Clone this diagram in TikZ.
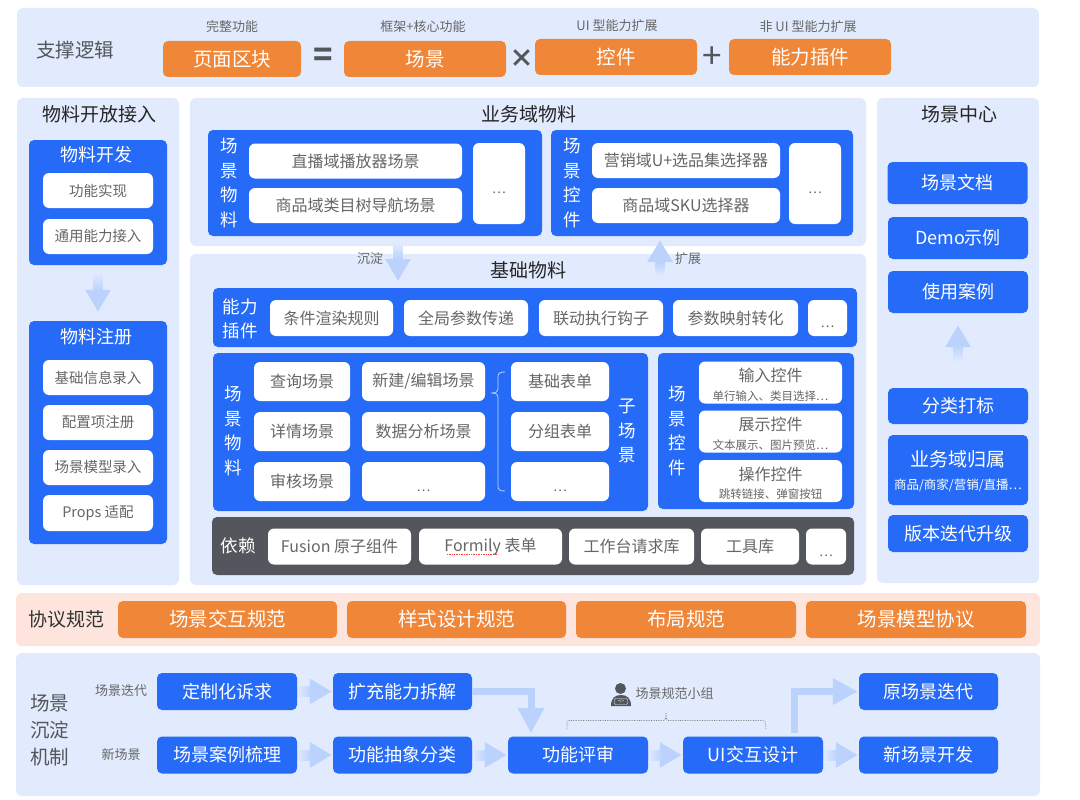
\documentclass[tikz,border=0pt]{standalone}
\usepackage{fontspec}
\setmainfont{Noto Sans CJK SC}
\usepackage[]{xcolor}
\usetikzlibrary{arrows.meta}
\usetikzlibrary{calc}
\definecolor{panelblue}{HTML}{E1EBFD}
\definecolor{panelred}{HTML}{FDE5DE}
\definecolor{mainblue}{HTML}{256BF8}
\definecolor{mainorange}{HTML}{F08637}
\definecolor{darkgrey}{HTML}{53565C}
\definecolor{arrowblue}{HTML}{BAD2FC}
\definecolor{textgrey}{HTML}{666666}
\newcommand{\moredots}{\raisebox{-9.5pt}[0pt][0pt]{\fontsize{13}{16}\selectfont …}}
\tikzset{
    sz/.style 2 args={minimum width=#1pt,minimum height=#2pt},
    fs/.style={font=\fontsize{#1}{24}\selectfont},
    panel/.style={fill=panelblue,rounded corners=6pt,inner sep=0pt},
    bluebox/.style={fill=mainblue,rounded corners=5pt,inner sep=0pt,text=white,fs=18},
    orangebox/.style={fill=mainorange,rounded corners=5pt,inner sep=0pt,text=white,fs=19.5},
    whitebox/.style={fill=white,rounded corners=6pt,inner sep=0pt,text=textgrey,fs=16},
    title/.style={inner sep=0pt,text=black!85,fs=19},
    caption/.style={inner sep=0pt,text=textgrey,fs=13},
    vtext/.style={inner sep=0pt,align=center,text=white,font=\fontsize{17.5}{24.5}\selectfont},
    ctrlbox/.style={whitebox,sz={143}{42},align=center,font=\fontsize{16}{18.5}\selectfont},
    opsign/.style={inner sep=0pt,text=darkgrey,font=\fontsize{#1}{#1}\selectfont\bfseries},
    fatline/.style={draw=arrowblue,line width=#1pt,-{Triangle[width=24pt,length=22pt]}},
    fatline/.default=9,
    fatbend/.style={draw=arrowblue,line width=7pt,-{Triangle[width=25pt,length=25pt]}},
    fadeh/.style={left color=panelblue,right color=arrowblue,draw=none},
    fadev/.style={top color=panelblue,bottom color=arrowblue,draw=none},
    fadeu/.style={bottom color=panelblue,top color=arrowblue,draw=none},
}
\begin{document}
\begin{tikzpicture}[x=1pt,y=-1pt]
    \useasboundingbox (0,0) rectangle (1080,800);
    % 支撑逻辑
    \node[panel,sz={1022}{79}] (logicpanel) at (528,47.5) {};
    \node[title,text=darkgrey,fs=19.5] (logictitle) at (75,50) {支撑逻辑};
    \node[caption] (cap1) at (232,27) {完整功能};
    \node[caption] (cap2) at (423,27) {框架+核心功能};
    \node[caption] (cap3) at (617,26) {UI 型能力扩展};
    \node[caption] (cap4) at (808,27) {非 UI 型能力扩展};
    \node[orangebox,sz={138}{36}] (block) at (232,59) {页面区块};
    \node[orangebox,sz={162}{36}] (scene) at (425,59) {场景};
    \node[orangebox,sz={162}{36}] (control) at (616,57) {控件};
    \node[orangebox,sz={162}{36}] (plugin) at (810,57) {能力插件};
    \node[opsign=32] (opeq) at (323,57.5) {=};
    \node[opsign=25] (optimes) at (521.5,58.5) {×};
    \node[opsign=35,font=\fontsize{35}{35}\mdseries] (opplus) at (712.5,57.5) {+};
    % 物料开放接入
    \node[panel,sz={162}{487}] (openpanel) at (98,341.5) {};
    \node[title] (opentitle) at (99,114) {物料开放接入};
    \node[bluebox,sz={138}{125}] (kaifa) at (98,202.5) {};
    \node[bluebox,inner sep=0pt] (kaifatitle) at (96,155) {物料开发};
    \node[whitebox,sz={110}{35},fs=14.5] (gongneng) at (98,190.5) {功能实现};
    \node[whitebox,sz={110}{35},fs=14.5] (tongyong) at (98,236.5) {通用能力接入};
    \node[bluebox,sz={138}{223}] (zhuce) at (98,432.5) {};
    \node[bluebox,inner sep=0pt] (zhucetitle) at (96,337) {物料注册};
    \node[whitebox,sz={110}{35},fs=14.5] (jichu) at (98,377.5) {基础信息录入};
    \node[whitebox,sz={110}{35},fs=14.5] (peizhi) at (98,422.5) {配置项注册};
    \node[whitebox,sz={110}{35},fs=14.5] (moxing) at (98,467.5) {场景模型录入};
    \node[whitebox,sz={110}{36},fs=14.5] (props) at (98,513) {Props 适配};
    % 业务域物料
    \node[panel,sz={676}{148}] (bizpanel) at (528,172) {};
    \node[title] (biztitle) at (529,114) {业务域物料};
    \node[bluebox,sz={334}{106}] (bizscene) at (375,183) {};
    \node[vtext] (bizscenetext) at (229,183) {场\\景\\物\\料};
    \node[whitebox,sz={213}{35}] (zhibo) at (355.5,161) {直播域播放器场景};
    \node[whitebox,sz={213}{35}] (shangpin) at (355.5,205.5) {商品域类目树导航场景};
    \node[whitebox,sz={52}{81}] (bizmore1) at (499,183.5) {\moredots};
    \node[bluebox,sz={302}{106}] (bizctrl) at (702,183) {};
    \node[vtext] (bizctrltext) at (572,183) {场\\景\\控\\件};
    \node[whitebox,sz={188}{35}] (yingxiao) at (686,160.5) {营销域U+选品集选择器};
    \node[whitebox,sz={188}{35}] (sku) at (686,205.5) {商品域SKU选择器};
    \node[whitebox,sz={52}{81}] (bizmore2) at (815,183.5) {\moredots};
    % 基础物料
    \node[panel,sz={676}{331}] (basepanel) at (528,419.5) {};
    \node[title] (basetitle) at (528,270) {基础物料};
    \node[caption] (chendian) at (370,259) {沉淀};
    \node[caption] (kuozhan) at (688,259) {扩展};
    \coordinate (chenA) at (398,243);
    \coordinate (chenB) at (398,281);
    \coordinate (kuoA) at (660,276);
    \coordinate (kuoB) at (660,240);
    \node[bluebox,sz={644}{59}] (pluginbar) at (535,317.5) {};
    \node[vtext,font=\fontsize{17.5}{24}\selectfont] (plugintext) at (240,319) {能力\\插件};
    \node[whitebox,sz={123}{36}] (tiaojian) at (331.5,318) {条件渲染规则};
    \node[whitebox,sz={124}{36}] (quanju) at (466,318) {全局参数传递};
    \node[whitebox,sz={124}{36}] (liandong) at (601,318) {联动执行钩子};
    \node[whitebox,sz={125}{36}] (yingshe) at (735.5,318) {参数映射转化};
    \node[whitebox,sz={39}{36}] (pluginmore) at (827.5,318) {\moredots};
    % 场景物料
    \node[bluebox,sz={435}{158}] (basescene) at (430.5,432) {};
    \node[vtext] (basescenetext) at (233,431) {场\\景\\物\\料};
    \node[whitebox,sz={96}{39}] (chaxun) at (302,381.5) {查询场景};
    \node[whitebox,sz={96}{39}] (xiangqing) at (302,431.5) {详情场景};
    \node[whitebox,sz={96}{39}] (shenhe) at (302,481.5) {审核场景};
    \node[whitebox,sz={123}{39}] (xinjian) at (423.5,381.5) {新建/编辑场景};
    \node[whitebox,sz={123}{39}] (shuju) at (423.5,431.5) {数据分析场景};
    \node[whitebox,sz={123}{39}] (scenemore) at (423.5,481.5) {\moredots};
    \node[whitebox,sz={98}{39}] (jichubiao) at (560,381.5) {基础表单};
    \node[whitebox,sz={98}{39}] (fenzu) at (560,431.5) {分组表单};
    \node[whitebox,sz={98}{39}] (biaomore) at (560,481.5) {\moredots};
    \node[vtext] (zichangjing) at (627,431) {子\\场\\景};
    \draw[white!70!mainblue,line width=0.8pt] (505,372) .. controls (500,372) and (498,373) .. (498,377) -- (498,388) .. controls (498,392) and (496,393) .. (491,393) .. controls (496,393) and (498,394) .. (498,398) -- (498,486) .. controls (498,490) and (500,491) .. (505,491);
    % 场景控件
    \node[bluebox,sz={196}{156}] (basectrl) at (756,431) {};
    \node[vtext] (basectrltext) at (677,431) {场\\景\\控\\件};
    \node[ctrlbox] (shuru) at (770.5,382.5) {\rule{0pt}{18pt}输入控件\\{\fontsize{11.5}{13}\selectfont 单行输入、类目选择…}};
    \node[ctrlbox] (zhanshi) at (770.5,431.5) {\rule{0pt}{18pt}展示控件\\{\fontsize{11.5}{13}\selectfont 文本展示、图片预览…}};
    \node[ctrlbox] (caozuo) at (770.5,481) {\rule{0pt}{18pt}操作控件\\{\fontsize{11.5}{13}\selectfont 跳转链接、弹窗按钮}};
    % 依赖
    \node[bluebox,fill=darkgrey,sz={642}{58}] (depbar) at (533,546) {};
    \node[vtext,font=\fontsize{17.5}{20}\selectfont] (deptext) at (238,546) {依赖};
    \node[whitebox,sz={143}{36}] (fusion) at (339.5,546.5) {Fusion 原子组件};
    \node[whitebox,sz={143}{36}] (formily) at (490.5,546.5) {Formily 表单};
    \draw[red!75!white,line width=0.7pt,densely dotted] (447,554) -- (498,554);
    \node[whitebox,sz={125}{36}] (qingqiu) at (631.5,546.5) {工作台请求库};
    \node[whitebox,sz={98}{36}] (gongju) at (750,546.5) {工具库};
    \node[whitebox,sz={40}{36}] (depmore) at (826,546.5) {\moredots};
    % 场景中心
    \node[panel,sz={162}{485}] (centerpanel) at (958,340.5) {};
    \node[title] (centertitle) at (959,114) {场景中心};
    \node[bluebox,sz={140}{42}] (wendang) at (957.5,183) {场景文档};
    \node[bluebox,sz={140}{42}] (demo) at (958,238) {Demo示例};
    \node[bluebox,sz={140}{42}] (anli) at (958,292) {使用案例};
    \node[bluebox,sz={140}{36}] (fenlei) at (958,406) {分类打标};
    \node[bluebox,sz={140}{70}] (guishu) at (958,470) {};
    \node[inner sep=0pt,text=white,fs=19] (guishutext) at (958,459) {业务域归属};
    \node[inner sep=0pt,text=white,fs=12.5] (guishusub) at (958,485) {商品/商家/营销/直播…};
    \node[bluebox,sz={140}{37}] (banben) at (958,533.5) {版本迭代升级};
    % 协议规范
    \node[panel,fill=panelred,sz={1024}{53}] (protopanel) at (528,619.5) {};
    \node[title,text=black!80,fs=19] (prototitle) at (66,619) {协议规范};
    \node[orangebox,sz={219}{37}] (jiaohu) at (227.5,619.5) {场景交互规范};
    \node[orangebox,sz={219}{37}] (yangshi) at (456.5,619.5) {样式设计规范};
    \node[orangebox,sz={220}{37}] (buju) at (686,619.5) {布局规范};
    \node[orangebox,sz={220}{37}] (xieyi) at (916,619.5) {场景模型协议};
    % 场景沉淀机制
    \node[panel,sz={1024}{143}] (flowpanel) at (528,724.5) {};
    \node[title,text=darkgrey,align=center,font=\fontsize{19.5}{27}\selectfont] (flowtitle) at (50,730) {场景\\沉淀\\机制};
    \node[caption] (labeliter) at (121,691) {场景迭代};
    \node[caption] (labelnew) at (121,755) {新场景};
    \node[bluebox,sz={140}{37}] (dingzhi) at (227,691.5) {定制化诉求};
    \node[bluebox,sz={139}{37}] (kuochong) at (402.5,691.5) {扩充能力拆解};
    \node[bluebox,sz={140}{37}] (anlishuli) at (227,755) {场景案例梳理};
    \node[bluebox,sz={139}{37}] (chouxiang) at (402.5,755) {功能抽象分类};
    \node[bluebox,sz={140}{37}] (pingshen) at (578,755) {功能评审};
    \node[bluebox,sz={140}{37}] (uisheji) at (753,755) {UI交互设计};
    \node[bluebox,sz={139}{37}] (yuandiedai) at (928.5,691.5) {原场景迭代};
    \node[bluebox,sz={139}{37}] (xinkaifa) at (928.5,755) {新场景开发};
    \coordinate (pingtop) at (531,733);
    \coordinate (uitop) at (794,733);
    % 场景规范小组
    \node[caption] (guifan) at (674.5,694) {场景规范小组};
    \fill[darkgrey] (620.5,688.5) circle (5.5pt);
    \fill[darkgrey] (611,706) .. controls (611,698) and (615,695) .. (621,695) .. controls (627,695) and (631,698) .. (631,706) -- cycle;
    \fill[darkgrey,draw=panelblue!70,line width=0.4pt,rounded corners=1pt] (614.5,698.5) rectangle (627.5,704.5);
    \node[inner sep=0pt,text=white,font=\fontsize{4}{4}\selectfont] (codemark) at (621,701.5) {</>};
    \draw[gray,line width=0.7pt,densely dotted] (567,729) -- (567,723) .. controls (567,721) .. (569,720.5) -- (664,720.5) .. controls (665.5,720.5) .. (666,712.5) .. controls (666.5,720.5) .. (668,720.5) -- (763,720.5) .. controls (765,721) .. (765.5,723) -- (766,729);
    % 箭头
    \draw[fatline,shorten <=10pt,shorten >=9pt] (kaifa) -- (zhuce);
    \shade[fadev] (93.5,272) rectangle (102.5,291);
    \draw[fatline] (chenA) -- (chenB);
    \shade[fadev] (393.5,243) rectangle (402.5,259);
    \draw[fatline] (kuoA) -- (kuoB);
    \shade[fadeu] (655.5,276) rectangle (664.5,262);
    \draw[fatline,shorten <=26pt,shorten >=12pt] (fenlei) -- (anli);
    \shade[fadeu] (953.5,362) rectangle (962.5,345);
    \draw[fatline=10,shorten >=1pt] (dingzhi) -- (kuochong);
    \shade[fadeh] (dingzhi.east) ++(1,-5) rectangle ++(13,10);
    \draw[fatline=10,shorten >=1pt] (anlishuli) -- (chouxiang);
    \shade[fadeh] (anlishuli.east) ++(1,-5) rectangle ++(13,10);
    \draw[fatline=10,shorten >=1pt] (chouxiang) -- (pingshen);
    \shade[fadeh] (chouxiang.east) ++(1,-5) rectangle ++(13,10);
    \draw[fatline=10,shorten >=1pt] (pingshen) -- (uisheji);
    \shade[fadeh] (pingshen.east) ++(1,-5) rectangle ++(13,10);
    \draw[fatline=10,shorten >=1pt] (uisheji) -- (xinkaifa);
    \shade[fadeh] (uisheji.east) ++(1,-5) rectangle ++(13,10);
    \draw[fatbend] (kuochong.east) -| (pingtop);
    \draw[fatbend,shorten >=1pt] (uitop) |- (yuandiedai.west);
\end{tikzpicture}
\end{document}
